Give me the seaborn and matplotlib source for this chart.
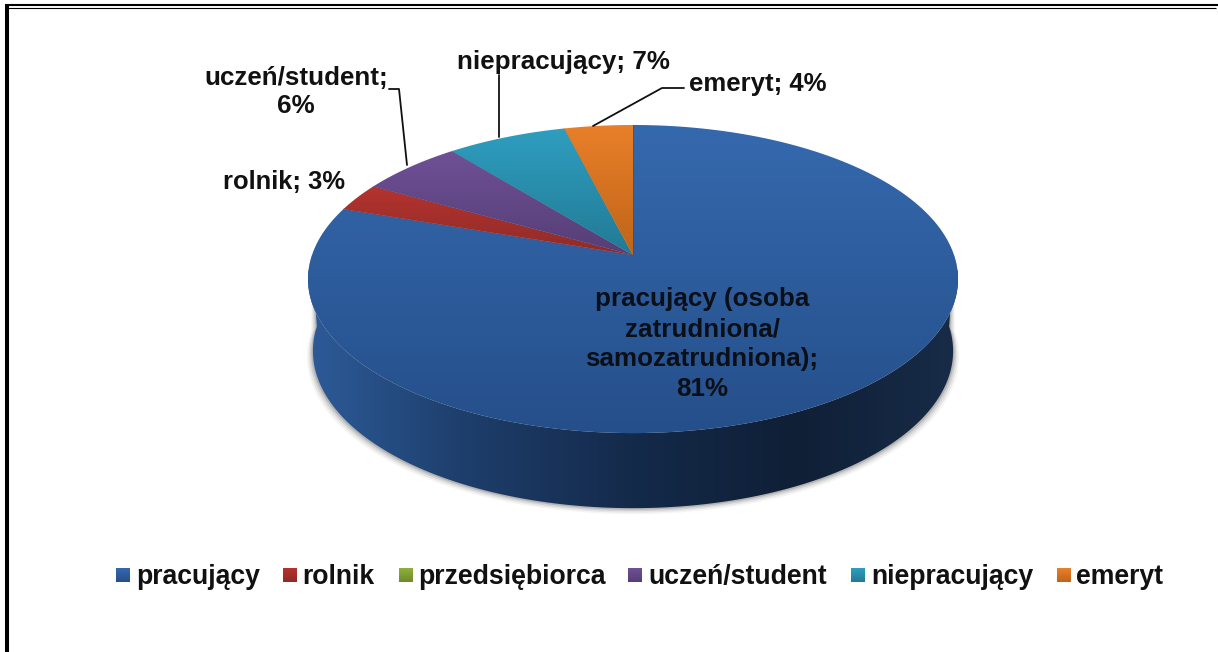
import numpy as np
import matplotlib
matplotlib.use("Agg")
import matplotlib.pyplot as plt
from matplotlib.patches import Polygon, Rectangle
from matplotlib.colors import LinearSegmentedColormap
import seaborn as sns

# -----------------------------------------------------
# Data
# -----------------------------------------------------

categories = ["pracujący", "rolnik", "przedsiębiorca", "uczeń/student", "niepracujący", "emeryt"]
values = [81, 3, 0, 6, 7, 4]

top_colors = ["#3569ae", "#b5332e", "#8fb03c", "#6f5096", "#2f9ec0", "#e9802a"]
low_colors = ["#254f8a", "#8f2b28", "#6e8a2c", "#553e76", "#227a94", "#bf6418"]

# -----------------------------------------------------
# Setup
# -----------------------------------------------------

sns.set_theme(style="white")
plt.rcParams["font.family"] = ["Liberation Sans", "DejaVu Sans"]
plt.rcParams["font.weight"] = "bold"

W, H = 1218, 652
fig = plt.figure(figsize=(W / 100, H / 100), dpi=100)
ax = fig.add_axes([0, 0, 1, 1])
ax.set_xlim(0, W)
ax.set_ylim(H, 0)
ax.axis("off")

# apex of the pie and the projection of the tilted disc
cx, cy = 633, 255
A, B, k = 321, 150.3, 0.156


def disc(theta):
    u, v = np.sin(theta), np.cos(theta)
    return cx + A * u / (1 + k * v), cy - B * v / (1 + k * v)


def wall(theta):
    x, y = disc(theta)
    return cx + (x - cx) * 0.985, 279 + (y - 279) * 1.02 + 72


def gradient(patch, c0, c1, extent, horizontal=False, zorder=2):
    cmap = LinearSegmentedColormap.from_list("g", c0 if isinstance(c0, list) else [c0, c1])
    grad = np.linspace(0, 1, 256)
    grad = grad.reshape(1, -1) if horizontal else grad.reshape(-1, 1)
    ax.add_patch(patch)
    im = ax.imshow(grad, cmap=cmap, extent=extent, aspect="auto", zorder=zorder,
                   interpolation="bilinear", vmin=0, vmax=1)
    im.set_clip_path(patch)
    ax.set_xlim(0, W)
    ax.set_ylim(H, 0)


# -----------------------------------------------------
# Shadow and side wall
# -----------------------------------------------------

t = np.linspace(np.pi / 2, 3 * np.pi / 2, 300)
x_top, y_top = disc(t)
x_low, y_low = wall(t)

for grow, alpha in zip([6, 4.5, 3, 1.5], [0.04, 0.06, 0.09, 0.14]):
    x_sh = cx + (x_low - cx) * (1 + grow / 320)
    ax.fill(np.r_[x_top, x_sh[::-1]], np.r_[y_top, y_low[::-1] + grow],
            color="black", alpha=alpha, lw=0, zorder=1)

side = Polygon(np.c_[np.r_[x_top, x_low[::-1]], np.r_[y_top, y_low[::-1]]],
               closed=True, fc="none", ec="none")
gradient(side, ["#2d5b98", "#1d3d6a", "#142a4a", "#0f1f36", "#182c48"], None,
         [308, 958, 520, 270], horizontal=True)

# -----------------------------------------------------
# Top face
# -----------------------------------------------------

total = sum(values)
edges = np.cumsum([0] + values) / total * 2 * np.pi

for i, val in enumerate(values):
    if val == 0:
        continue
    t = np.linspace(edges[i], edges[i + 1], 200)
    x, y = disc(t)
    pts = np.c_[np.r_[cx, x], np.r_[cy, y]]
    patch = Polygon(pts, closed=True, fc="none", ec="none")
    gradient(patch, top_colors[i], low_colors[i],
             [pts[:, 0].min(), pts[:, 0].max(), pts[:, 1].max(), pts[:, 1].min()], zorder=3)
    # thin separator between slices
    ax.plot([cx, x[0]], [cy, y[0]], color=low_colors[i], lw=0.6, alpha=0.6, zorder=4)

# -----------------------------------------------------
# Labels
# -----------------------------------------------------

fs = 18.7
ax.text(702, 344, "pracujący (osoba\nzatrudniona/\nsamozatrudniona);\n81%", ha="center", va="center",
        fontsize=fs, color="#0b0f18", linespacing=1.31, zorder=6)
ax.text(284, 182, "rolnik; 3%", ha="center", va="center", fontsize=18.4, color="#111111")
ax.text(296, 92, "uczeń/student;\n6%", ha="center", va="center", fontsize=fs, color="#111111", linespacing=1.18)
ax.text(563, 62, "niepracujący; 7%", ha="center", va="center", fontsize=fs, color="#111111")
ax.text(758, 84, "emeryt; 4%", ha="center", va="center", fontsize=18.5, color="#111111")

ax.plot([389, 399, 407], [89, 89, 165], color="#111111", lw=1.3, zorder=5)
ax.plot([499, 499], [75, 137], color="#111111", lw=1.3, zorder=5)
ax.plot([684, 662, 593], [88, 88, 126], color="#111111", lw=1.3, zorder=5)

# -----------------------------------------------------
# Legend
# -----------------------------------------------------

swatch_x = [116, 283, 399, 628, 851, 1057]
label_x = [136, 302, 418, 648, 871, 1076]
for i, name in enumerate(categories):
    patch = Rectangle((swatch_x[i], 568), 14, 14, fc="none", ec="none")
    gradient(patch, top_colors[i], low_colors[i],
             [swatch_x[i], swatch_x[i] + 14, 582, 568], zorder=3)
    ax.text(label_x[i], 577, name, ha="left", va="center", fontsize=19.2, color="#111111")

# -----------------------------------------------------
# Frame
# -----------------------------------------------------

ax.plot([5, W], [5, 5], color="black", lw=1.5, zorder=7, solid_capstyle="butt")
ax.plot([5, 1216], [7.5, 7.5], color="black", lw=0.8, zorder=7, solid_capstyle="butt")
ax.plot([7, 7], [4, H], color="black", lw=2.9, zorder=7, solid_capstyle="butt")

fig.savefig("out.png", dpi=100)
plt.close(fig)
